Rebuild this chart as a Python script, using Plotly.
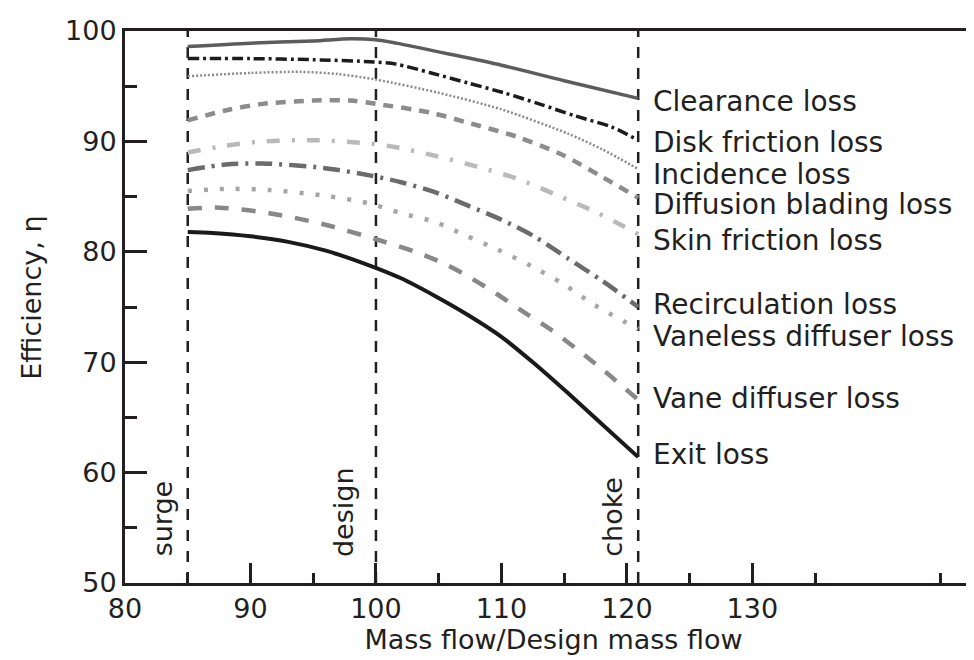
import plotly.graph_objects as go

# ---------------- data ----------------
x_clearance = [85, 90, 95, 98, 100, 101.6, 105.9, 110, 115, 120.9]
y_clearance = [98.6, 98.9, 99.1, 99.3, 99.2, 98.9, 97.9, 96.9, 95.5, 93.9]

x_disk = [85, 90, 95, 99.8, 101.6, 104.4, 107.3, 110.2, 113, 115.9, 118.8, 120.9]
y_disk = [97.5, 97.5, 97.4, 97.2, 97.0, 96.2, 95.3, 94.4, 93.4, 92.3, 91.3, 90.1]

x_incidence = [85, 90, 94, 97, 100, 105, 110, 115.3, 118, 120.9]
y_incidence = [95.9, 96.2, 96.3, 96.1, 95.6, 94.4, 92.9, 90.7, 89.3, 87.5]

x_diffusion = [85, 88, 91, 95, 98, 100, 104.4, 107.3, 111.3, 115, 118, 120.9]
y_diffusion = [91.9, 92.8, 93.4, 93.7, 93.7, 93.4, 92.6, 91.7, 90.4, 88.7, 86.8, 84.9]

x_skin = [85, 88, 91, 95.3, 99.6, 101.5, 104.7, 108.1, 111.3, 114.5, 117.7, 120.9]
y_skin = [89.0, 89.6, 90.0, 90.1, 89.8, 89.5, 88.7, 87.7, 86.6, 85.1, 83.5, 81.6]

x_recirc = [85, 88, 91, 95.8, 99.6, 102, 104.7, 107.3, 110, 112.6, 115.3, 118, 120.9]
y_recirc = [87.4, 87.9, 88.0, 87.6, 86.9, 86.3, 85.4, 84.2, 82.9, 81.4, 79.4, 77.4, 75.0]

x_vaneless = [85, 88, 91.5, 95.8, 99.4, 102, 104.7, 107.1, 109.7, 112.4, 114.9, 117.4, 120.9]
y_vaneless = [85.5, 85.7, 85.6, 85.1, 84.4, 83.5, 82.7, 81.5, 80.2, 78.7, 77.1, 75.2, 73.0]

x_vane = [85, 87.5, 91.5, 95.8, 100.4, 103.1, 105.5, 107.6, 109.6, 111.7, 114, 116.1, 118.2, 120.9]
y_vane = [83.9, 84.0, 83.5, 82.5, 81.0, 80.0, 78.9, 77.6, 76.2, 74.6, 72.9, 71.1, 69.2, 66.6]

x_exit = [85, 87, 90, 93, 96, 99.4, 102, 104.7, 107.3, 110, 112.6, 115.3, 118, 120.9]
y_exit = [81.8, 81.7, 81.4, 80.9, 80.1, 78.8, 77.6, 76.0, 74.3, 72.3, 69.9, 67.2, 64.4, 61.4]

loss_names = ["Clearance loss", "Disk friction loss", "Incidence loss",
              "Diffusion blading loss", "Skin friction loss", "Recirculation loss",
              "Vaneless diffuser loss", "Vane diffuser loss", "Exit loss"]
label_y = [93.6, 89.9, 87.0, 84.3, 81.0, 75.2, 72.3, 66.7, 61.6]

marker_x = [85, 100, 120.9]
marker_names = ["surge", "design", "choke"]

x_major_ticks = [80, 90, 100, 110, 120, 130]
x_minor_ticks = [85, 95, 105, 115, 125, 135, 145]
y_major_ticks = [50, 60, 70, 80, 90, 100]
y_minor_ticks = [55, 65, 75, 85, 95]

# ---------------- styles ----------------
INK = "#231f20"
FONT = "DejaVu Sans"

series = [
    (x_clearance, y_clearance, "#5c5c5c", 3.5, "solid"),
    (x_disk, y_disk, "#1c1c1c", 3.5, "11px,4px,3px,4px"),
    (x_incidence, y_incidence, "#8a8a8a", 2.5, "2px,2px"),
    (x_diffusion, y_diffusion, "#8c8c8c", 4.5, "10px,8px"),
    (x_skin, y_skin, "#b9b9b9", 4.5, "13px,12px,3px,12px"),
    (x_recirc, y_recirc, "#6b6b6b", 4.5, "17px,7px,3px,7px"),
    (x_vaneless, y_vaneless, "#a6a6a6", 4.5, "4px,12px"),
    (x_vane, y_vane, "#888888", 4.5, "14px,13px"),
    (x_exit, y_exit, "#1a1a1a", 4, "solid"),
]

fig = go.Figure()

for mx in marker_x:
    fig.add_trace(go.Scatter(x=[mx, mx], y=[50, 100], mode="lines",
                             line=dict(color=INK, width=2.5, dash="11px,10px"),
                             hoverinfo="skip", showlegend=False))

for (xs, ys, col, w, dash), name in zip(series, loss_names):
    fig.add_trace(go.Scatter(x=xs, y=ys, mode="lines", name=name,
                             line=dict(color=col, width=w, dash=dash,
                                       shape="spline", smoothing=0.8),
                             showlegend=False))

annotations = []
for name, yv in zip(loss_names, label_y):
    annotations.append(dict(x=121.9, y=yv, xref="x", yref="y", text=name,
                            showarrow=False, xanchor="left", yanchor="middle",
                            font=dict(family=FONT, size=28, color=INK)))

marker_label_x = [83.0, 97.4, 118.9]
for lx, name in zip(marker_label_x, marker_names):
    annotations.append(dict(x=lx, y=52.2, xref="x", yref="y", text=name,
                            showarrow=False, textangle=-90, xanchor="center",
                            yanchor="bottom",
                            font=dict(family=FONT, size=27, color=INK)))

# y-axis title placed as an annotation for precise positioning
annotations.append(dict(x=-0.109, y=0.516, xref="paper", yref="paper",
                        text="Efficiency, η", showarrow=False, textangle=-90,
                        xanchor="center", yanchor="middle",
                        font=dict(family=FONT, size=27, color=INK)))

fig.update_layout(
    width=974, height=660,
    margin=dict(l=117, r=0, t=23, b=85),
    plot_bgcolor="white", paper_bgcolor="white",
    font=dict(family=FONT, size=27, color=INK),
    annotations=annotations,
    showlegend=False,
)

fig.update_xaxes(
    range=[80, 148.3], tickvals=x_major_ticks,
    ticks="inside", ticklen=20, tickwidth=2.5, tickcolor=INK,
    showline=True, linewidth=3, linecolor=INK, mirror=True,
    showgrid=False, zeroline=False,
    tickfont=dict(family=FONT, size=27, color=INK),
    minor=dict(tickvals=x_minor_ticks, ticks="inside", ticklen=10,
               tickwidth=2.5, tickcolor=INK, showgrid=False),
    title=dict(text="Mass flow/Design mass flow", standoff=5,
               font=dict(family=FONT, size=27, color=INK)),
)
fig.update_yaxes(
    range=[50, 100], tickvals=y_major_ticks,
    ticks="inside", ticklen=22, tickwidth=2.5, tickcolor=INK,
    showline=True, linewidth=3, linecolor=INK, mirror=False,
    showgrid=False, zeroline=False,
    tickfont=dict(family=FONT, size=27, color=INK),
    minor=dict(tickvals=y_minor_ticks, ticks="inside", ticklen=12,
               tickwidth=2.5, tickcolor=INK, showgrid=False),
)

fig.write_html("out.html")
